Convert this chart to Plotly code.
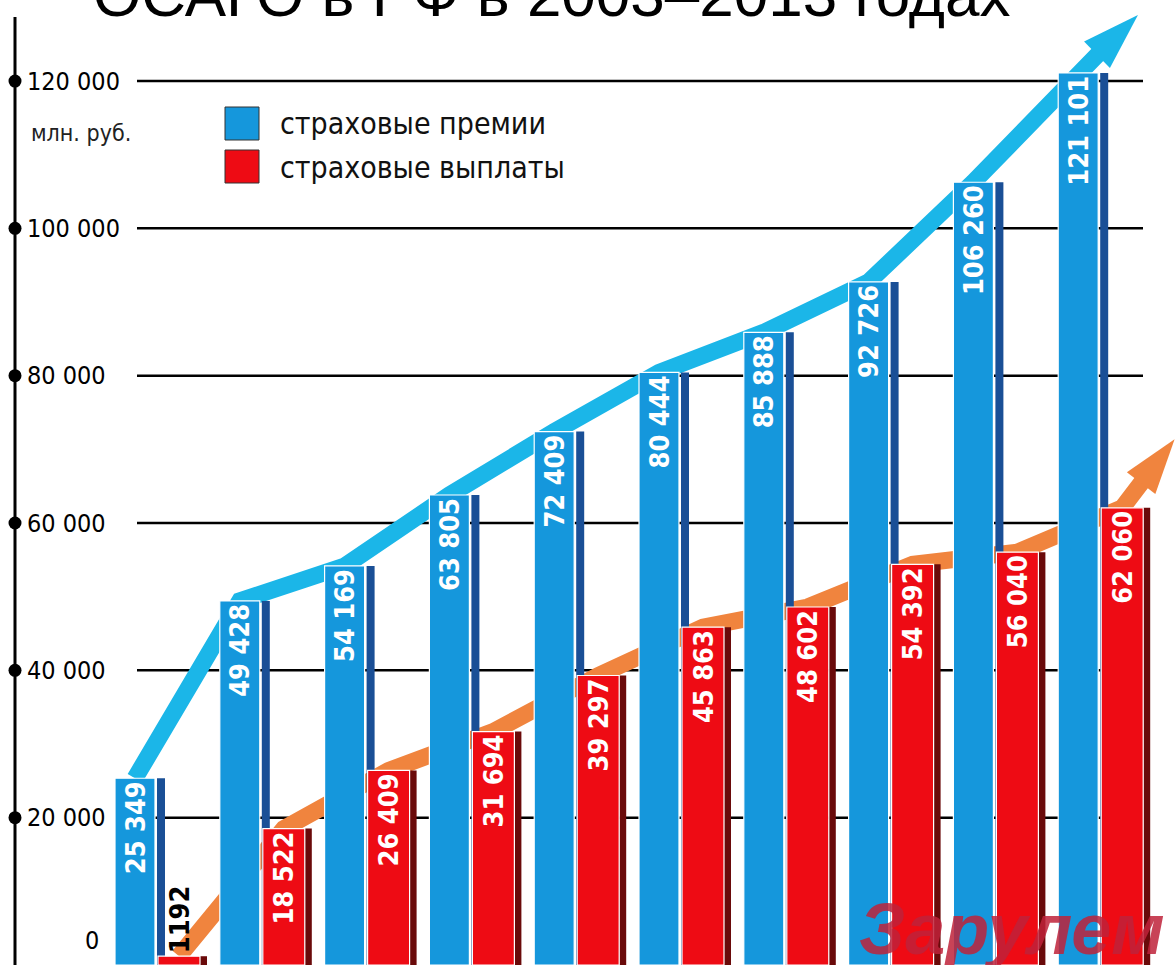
import plotly.graph_objects as go

# ---------------- data ----------------
years = [str(y) for y in range(2003, 2013)]
premiums = [25349, 49428, 54169, 63805, 72409, 80444, 85888, 92726, 106260, 121101]
payouts = [1192, 18522, 26409, 31694, 39297, 45863, 48602, 54392, 56040, 62060]
tick_values = [0, 20000, 40000, 60000, 80000, 100000, 120000]
tick_labels = ["0", "20 000", "40 000", "60 000", "80 000", "100 000", "120 000"]
unit_label = "млн. руб."
legend_labels = ["страховые премии", "страховые выплаты"]
title_text = "ОСАГО в РФ в 2003–2013 годах"
watermark_text = "Зарулем"

# ---------------- styling ----------------
W, H = 1175, 965
PX_PER_GROUP = 104.8
GROUP0_PX = 157.0
Y_MAX = 131000

BLUE = "#1597dc"
BLUE_SIDE = "#1a4f96"
RED = "#ee0b14"
RED_SIDE = "#6a0a0a"
CYAN = "#1bb6e8"
ORANGE = "#f0843e"

NARROW = "Liberation Sans Narrow, DejaVu Sans Condensed, Roboto, sans-serif"
ARIAL = "Liberation Sans, Arial, sans-serif"


def gx(px):
    """pixel offset (relative to group boundary) -> x data units"""
    return px / PX_PER_GROUP


def fmt(v):
    return f"{v:,}".replace(",", " ") if v >= 10000 else str(v)


xs = list(range(len(years)))
x_range = [-GROUP0_PX / PX_PER_GROUP, (W - GROUP0_PX) / PX_PER_GROUP]

fig = go.Figure()

# ---------- trend arrows (base axes, drawn beneath the bars) ----------
def arrow_traces(xc, vals, color, tip_dx, tip_factor, base_frac, head):
    tip_x = xc[-1] + tip_dx
    tip_y = vals[-1] * tip_factor
    base_x = xc[-1] + base_frac * (tip_x - xc[-1])
    base_y = vals[-1] + base_frac * (tip_y - vals[-1])
    line = go.Scatter(x=list(xc) + [base_x], y=list(vals) + [base_y], mode="lines",
                      line=dict(color=color, width=17), hoverinfo="skip",
                      showlegend=False, cliponaxis=False, xaxis="x", yaxis="y")
    tip = go.Scatter(x=[base_x, tip_x], y=[base_y, tip_y], mode="markers",
                     marker=dict(symbol="arrow", size=[0, head], color=color, opacity=1,
                                 angleref="previous", line=dict(width=0)),
                     hoverinfo="skip", showlegend=False, cliponaxis=False,
                     xaxis="x", yaxis="y")
    return [line, tip]


blue_c = [x + gx(-22) for x in xs]
red_c = [x + gx(22) for x in xs]
for t in arrow_traces(blue_c, premiums, CYAN, 0.57, 1.065, 0.5, 60):
    fig.add_trace(t)
for t in arrow_traces(red_c, payouts, ORANGE, 0.5, 1.15, 0.4, 58):
    fig.add_trace(t)

# ---------- axis tick dots ----------
fig.add_trace(go.Scatter(x=[gx(15 - GROUP0_PX)] * (len(tick_values) - 1), y=tick_values[1:],
                         mode="markers", marker=dict(symbol="circle", size=13, color="black"),
                         hoverinfo="skip", showlegend=False, cliponaxis=False,
                         xaxis="x", yaxis="y"))

# ---------- bars (overlay axes, drawn above the arrows) ----------
def bar(vals, offset_px, width_px, color, **kw):
    return go.Bar(x=xs, y=vals, offset=gx(offset_px), width=gx(width_px),
                  marker=dict(color=color, line=kw.pop("line", dict(width=0))),
                  hoverinfo="skip", showlegend=False, xaxis="x2", yaxis="y2", **kw)


fig.add_trace(bar(premiums, 0, 8, BLUE_SIDE))
fig.add_trace(bar(payouts, 43, 7, RED_SIDE))
label_font = dict(family=NARROW, size=27, weight="bold")
fig.add_trace(bar(premiums, -42, 40, BLUE, line=dict(color="white", width=1.2),
                  text=[fmt(v) for v in premiums], textposition="inside",
                  insidetextanchor="end", textangle=-90, constraintext="none",
                  textfont=label_font,
                  insidetextfont=dict(color="white", **label_font)))
fig.add_trace(bar(payouts, 1, 42, RED, line=dict(color="white", width=1.2),
                  text=[fmt(v) for v in payouts],
                  textposition=["outside" if v < 10000 else "inside" for v in payouts],
                  insidetextanchor="end", textangle=-90, constraintext="none",
                  textfont=label_font, cliponaxis=False,
                  insidetextfont=dict(color="white", **label_font),
                  outsidetextfont=dict(color="black", **label_font)))

# ---------- shapes: axis line, gridlines, legend squares ----------
shapes = [dict(type="line", xref="paper", yref="paper", x0=15 / W, x1=15 / W,
               y0=0, y1=1 - 17 / H, line=dict(color="black", width=3), layer="below")]
for v in tick_values[1:]:
    shapes.append(dict(type="line", xref="paper", yref="y", x0=137 / W, x1=1143 / W,
                       y0=v, y1=v, line=dict(color="black", width=2.5), layer="below"))
for i, c in enumerate([BLUE, RED]):
    top = 107 + i * 43
    shapes.append(dict(type="rect", xref="paper", yref="paper",
                       x0=225 / W, x1=259 / W, y0=1 - (top + 33) / H, y1=1 - top / H,
                       fillcolor=c, line=dict(color="#333333", width=1)))

# ---------- annotations ----------
ann = []
tick_font = dict(family=NARROW, size=25, color="black")
for v, t in zip(tick_values, tick_labels):
    if v == 0:
        ann.append(dict(x=101 / W, xref="paper", xanchor="right", y=v, yref="y",
                        yanchor="middle", yshift=25, text=t, showarrow=False,
                        font=tick_font))
    else:
        ann.append(dict(x=25 / W, xref="paper", xanchor="left", y=v, yref="y",
                        yanchor="middle", text=t, showarrow=False, font=tick_font))
ann.append(dict(x=29 / W, xref="paper", xanchor="left", y=1 - 133 / H, yref="paper",
                yanchor="middle", text=unit_label, showarrow=False,
                font=dict(family=NARROW, size=23, color="#222222")))
for i, t in enumerate(legend_labels):
    ann.append(dict(x=278 / W, xref="paper", xanchor="left", y=1 - (124 + i * 43) / H,
                    yref="paper", yanchor="middle", text=t, showarrow=False,
                    font=dict(family=NARROW, size=30, color="#111111")))
ann.append(dict(x=551 / W, xref="paper", xanchor="center", y=1 - 31 / H, yref="paper",
                yanchor="bottom", text=title_text, showarrow=False,
                font=dict(family=ARIAL, size=62, color="black")))
ann.append(dict(x=1012 / W, xref="paper", xanchor="center", y=-6 / H, yref="paper",
                yanchor="bottom", text=watermark_text, showarrow=False,
                font=dict(family=ARIAL, size=72, color="rgba(190,34,58,0.85)",
                          weight="bold", style="italic")))

axis_common = dict(showgrid=False, zeroline=False, showticklabels=False, showline=False,
                   ticks="", fixedrange=True)
fig.update_layout(
    width=W, height=H,
    margin=dict(l=0, r=0, t=0, b=0),
    paper_bgcolor="white", plot_bgcolor="white",
    barmode="overlay",
    showlegend=False,
    hovermode=False,
    xaxis=dict(range=x_range, domain=[0, 1], **axis_common),
    yaxis=dict(range=[0, Y_MAX], domain=[0, 1], **axis_common),
    xaxis2=dict(range=x_range, overlaying="x", **axis_common),
    yaxis2=dict(range=[0, Y_MAX], overlaying="y", **axis_common),
    shapes=shapes,
    annotations=ann,
)

fig.write_html("out.html", config={"displayModeBar": False},
               post_script="document.body.style.margin='0';")
